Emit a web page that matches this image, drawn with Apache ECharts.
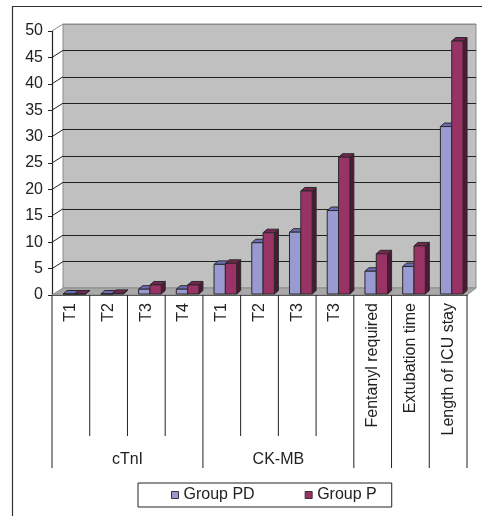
<!DOCTYPE html>
<html>
<head>
<meta charset="utf-8">
<script src="https://cdn.jsdelivr.net/npm/echarts@6/dist/echarts.min.js"></script>
<style>
  html, body { margin: 0; padding: 0; background: #fff; }
  #chart { width: 482px; height: 516px; }
</style>
</head>
<body>
<div id="chart"></div>
<script>
// Categories along the x axis
const categories = ['T1', 'T2', 'T3', 'T4', 'T1', 'T2', 'T3', 'T3',
  'Fentanyl required', 'Extubation time', 'Length of ICU stay'];
// Second-level grouping of the categories
const groupLabels = ['cTnI', 'CK-MB', '', '', ''];
const groupSpans = [4, 4, 1, 1, 1];

// Series values
const seriesNames = ['Group PD', 'Group P'];
const groupPD = [0.1, 0.1, 1.1, 1.1, 5.8, 9.9, 11.9, 16.0, 4.5, 5.4, 31.9];
const groupP = [0.05, 0.3, 1.9, 1.9, 6.0, 11.8, 19.7, 26.1, 7.8, 9.3, 48.1];

// Value axis
const Y_MIN = 0, Y_MAX = 50, Y_STEP = 5;

const FONT = '"Liberation Sans", Arial, sans-serif';
const INK = '#222';

// Face colours of the 3D columns: front, top, side
const palettes = [
  { front: '#9a9ad2', top: '#6c6cb4', side: '#4b4b86' },
  { front: '#993366', top: '#742650', side: '#4c1833' }
];

// depth of the column extrusion
const BAR_DX = 4, BAR_DY = -3.5;
// depth of the wall / floor
const WALL_DX = 11, WALL_DY = -7;

function barRenderer(slot) {
  const pal = palettes[slot];
  return function (params, api) {
    const i = api.value(0);
    const v = api.value(1);
    const p0 = api.coord([i, 0]);
    const p1 = api.coord([i, v]);
    const band = api.size([1, 0])[0];
    const w = band * 0.3;
    const x0 = p0[0] - band * 0.205 + slot * w;
    const x1 = x0 + w;
    const yb = p0[1] - 1;
    const yt = Math.min(p1[1], yb);
    const edge = { stroke: '#2a2a2a', lineWidth: 1, lineJoin: 'round' };
    return {
      type: 'group',
      children: [
        { type: 'polygon',
          shape: { points: [[x1, yt], [x1 + BAR_DX, yt + BAR_DY], [x1 + BAR_DX, yb + BAR_DY], [x1, yb]] },
          style: Object.assign({ fill: pal.side }, edge) },
        { type: 'polygon',
          shape: { points: [[x0, yt], [x1, yt], [x1 + BAR_DX, yt + BAR_DY], [x0 + BAR_DX, yt + BAR_DY]] },
          style: Object.assign({ fill: pal.top }, edge) },
        { type: 'rect',
          shape: { x: x0, y: yt, width: w, height: yb - yt },
          style: Object.assign({ fill: pal.front }, edge) }
      ]
    };
  };
}

// Floor, side wall lines, category dividers and group names
function frameRenderer(params, api) {
  const cs = params.coordSys;
  const left = cs.x, right = cs.x + cs.width, bottom = cs.y + cs.height;
  const band = api.size([1, 0])[0];
  const children = [];

  children.push({
    type: 'polygon',
    shape: { points: [[left, bottom], [right, bottom], [right + 9, bottom + WALL_DY], [left + WALL_DX, bottom + WALL_DY]] },
    style: { fill: '#a8a8a8', stroke: '#8c8c8c', lineWidth: 1 }
  });

  for (let v = Y_MIN + Y_STEP; v <= Y_MAX; v += Y_STEP) {
    const y = api.coord([0, v])[1];
    children.push({
      type: 'line',
      shape: { x1: left, y1: y, x2: left + WALL_DX, y2: y + WALL_DY },
      style: { stroke: v === Y_MAX ? '#8c8c8c' : INK, lineWidth: 1 }
    });
  }

  // group boundaries
  const groupEdges = [0];
  let acc = 0;
  groupSpans.forEach(function (s) { acc += s; groupEdges.push(acc); });

  for (let k = 0; k <= categories.length; k++) {
    const x = left + band * k;
    const isGroupEdge = groupEdges.indexOf(k) >= 0;
    children.push({
      type: 'line',
      shape: { x1: x, y1: bottom, x2: x, y2: bottom + (isGroupEdge ? 173 : 141) },
      style: { stroke: INK, lineWidth: 1 }
    });
  }

  let start = 0;
  groupLabels.forEach(function (name, gi) {
    const span = groupSpans[gi];
    if (name) {
      children.push({
        type: 'text',
        x: left + band * (start + span / 2),
        y: bottom + 165,
        style: {
          text: name, fill: INK, font: '16px ' + FONT,
          align: 'center', verticalAlign: 'middle'
        }
      });
    }
    start += span;
  });

  return { type: 'group', children: children };
}

const chart = echarts.init(document.getElementById('chart'), null, { renderer: 'canvas' });

const option = {
  backgroundColor: '#ffffff',
  animation: false,
  textStyle: { fontFamily: FONT },
  graphic: [{
    // chart-area border: only the left and top edges fall inside the page
    type: 'polyline',
    shape: { points: [[12.5, 516], [12.5, 6.5], [482, 6.5]] },
    style: { fill: 'none', stroke: '#333', lineWidth: 1.2 },
    silent: true,
    z: -10
  }],
  legend: {
    data: seriesNames,
    left: 138, top: 483,
    padding: [4, 15, 4, 33],
    borderColor: INK, borderWidth: 1,
    itemGap: 50, itemWidth: 7, itemHeight: 7,
    icon: 'rect',
    itemStyle: { borderColor: '#333', borderWidth: 1 },
    textStyle: { fontSize: 16, color: INK, fontFamily: FONT },
    selectedMode: false
  },
  grid: [
    { left: 52, top: 31, right: 15, bottom: 221, outerBoundsMode: 'none', containLabel: false },
    { left: 63, top: 24, right: 6, bottom: 228, outerBoundsMode: 'none', containLabel: false,
      show: true, backgroundColor: '#c0c0c0', borderColor: '#8c8c8c', borderWidth: 1 }
  ],
  xAxis: [
    {
      type: 'category', gridIndex: 0, data: categories,
      boundaryGap: true,
      axisLine: { show: true, lineStyle: { color: INK, width: 1 } },
      axisTick: { show: false },
      axisLabel: {
        rotate: 90, interval: 0, margin: 8,
        fontSize: 16, color: INK, fontFamily: FONT
      },
      splitLine: { show: false }
    },
    {
      type: 'category', gridIndex: 1, data: categories,
      show: false
    }
  ],
  yAxis: [
    {
      type: 'value', gridIndex: 0,
      min: Y_MIN, max: Y_MAX, interval: Y_STEP,
      axisLine: { show: true, lineStyle: { color: INK, width: 1.2 } },
      axisTick: { show: true, length: 4, lineStyle: { color: INK } },
      axisLabel: { margin: 9, fontSize: 16, color: INK, fontFamily: FONT },
      splitLine: { show: false }
    },
    {
      type: 'value', gridIndex: 1,
      min: Y_MIN, max: Y_MAX, interval: Y_STEP,
      axisLine: { show: false }, axisTick: { show: false }, axisLabel: { show: false },
      splitLine: {
        show: true,
        lineStyle: {
          color: ['#8c8c8c', INK, INK, INK, INK, INK, INK, INK, INK, INK, '#8c8c8c'],
          width: 1.2
        }
      }
    }
  ],
  series: [
    {
      type: 'custom', name: 'frame',
      xAxisIndex: 0, yAxisIndex: 0,
      renderItem: frameRenderer,
      data: [[0, 0]],
      silent: true, z: 1
    },
    {
      type: 'custom', name: seriesNames[0],
      xAxisIndex: 0, yAxisIndex: 0,
      renderItem: barRenderer(0),
      itemStyle: { color: palettes[0].front },
      data: groupPD.map(function (v, i) { return [i, v]; }),
      z: 2
    },
    {
      type: 'custom', name: seriesNames[1],
      xAxisIndex: 0, yAxisIndex: 0,
      renderItem: barRenderer(1),
      itemStyle: { color: palettes[1].front },
      data: groupP.map(function (v, i) { return [i, v]; }),
      z: 3
    }
  ]
};

chart.setOption(option);
</script>
</body>
</html>
